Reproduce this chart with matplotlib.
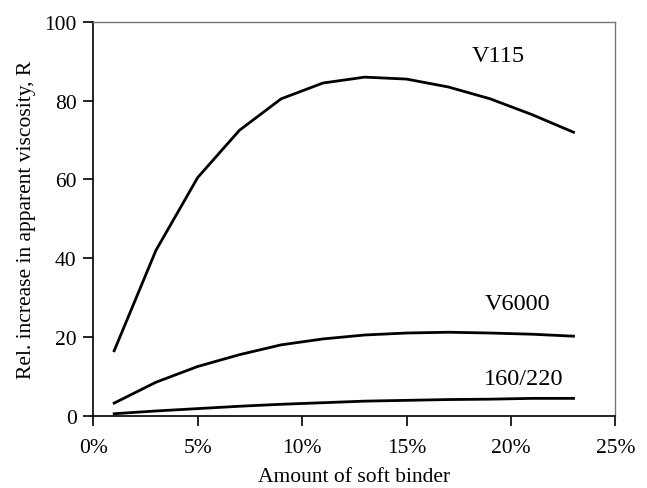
import matplotlib.pyplot as plt
from matplotlib.ticker import FuncFormatter

plt.rcParams['font.family'] = ['Liberation Serif', 'DejaVu Serif']

# data
binder = [1, 3, 5, 7, 9, 11, 13, 15, 17, 19, 21, 23]
v115 = [16.5, 42, 60.5, 72.5, 80.5, 84.5, 86, 85.5, 83.5, 80.5, 76.5, 72]
v6000 = [3.2, 8.5, 12.5, 15.5, 18, 19.5, 20.5, 21, 21.2, 21, 20.7, 20.2]
b160 = [0.5, 1.2, 1.8, 2.4, 2.9, 3.3, 3.7, 3.9, 4.1, 4.2, 4.4, 4.4]

fig = plt.figure(figsize=(6.47, 4.89), dpi=100)
ax = fig.add_axes([93.3 / 647, 1 - 416.7 / 489, 522 / 647, 393.7 / 489])

for ys in (v115, v6000, b160):
    ax.plot(binder, ys, color='black', lw=2)

ax.text(19.4, 91.4, 'V115', fontsize=17.5, ha='center', va='center')
ax.text(20.3, 28.4, 'V6000', fontsize=17.5, ha='center', va='center')
ax.text(20.6, 9.5, '160/220', fontsize=17.5, ha='center', va='center')

ax.set_xlim(0, 25)
ax.set_ylim(0, 100)
ax.set_xticks(range(0, 26, 5))
ax.set_yticks(range(0, 101, 20))
ax.xaxis.set_major_formatter(FuncFormatter(lambda v, p: f'{v:.0f}%'))
ax.tick_params(direction='out', length=7, width=1.2, labelsize=15.5, color='black')
ax.tick_params(axis='x', pad=9)
ax.tick_params(axis='y', pad=5)
for s in ('left', 'bottom'):
    ax.spines[s].set_color('black')
    ax.spines[s].set_linewidth(1.2)
for s in ('top', 'right'):
    ax.spines[s].set_color('#777777')
    ax.spines[s].set_linewidth(1)

ax.set_xlabel('Amount of soft binder', fontsize=15.5, labelpad=7)
ax.set_ylabel('Rel. increase in apparent viscosity, R', fontsize=15.5, labelpad=6)

fig.savefig('out.png', dpi=100)
